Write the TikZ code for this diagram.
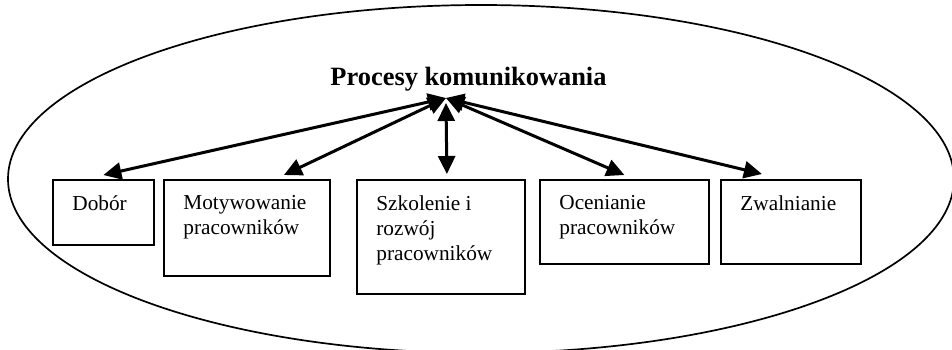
\documentclass[tikz,border=0pt]{standalone}
\usepackage{fontspec}
\setmainfont{Liberation Serif}
\usetikzlibrary{arrows.meta, positioning}

\begin{document}
\begin{tikzpicture}[x=0.5pt, y=-0.5pt,
    box/.style={draw, line width=0.9pt, anchor=north west, inner sep=0pt},
    boxtext/.style={anchor=north west, align=left, inner xsep=10pt, inner ysep=8pt,
                    font=\fontsize{10.65pt}{12.5pt}\selectfont},
    arr/.style={{Triangle[length=9pt,width=8.5pt]}-{Triangle[length=9pt,width=8.5pt]},
                line width=1.5pt}]
\useasboundingbox (0,0) rectangle (952,349);

% outer ellipse
\draw[line width=0.85pt] (481,179) ellipse [x radius=473, y radius=174];

% title
\node[font=\bfseries\fontsize{13.2pt}{15pt}\selectfont, anchor=base] (title) at (468.5,85)
   {Procesy komunikowania};
\coordinate (hub) at (446,98);

% boxes
\node[box, minimum width=50.5pt, minimum height=32.5pt] (dobor) at (52,179) {};
\node[box, minimum width=83pt, minimum height=48pt] (motyw) at (163,179) {};
\node[box, minimum width=84pt, minimum height=57pt] (szkol) at (356,179) {};
\node[box, minimum width=84.5pt, minimum height=42pt] (ocen) at (539,179) {};
\node[box, minimum width=70pt, minimum height=42pt] (zwal) at (720,179) {};

% box texts
\node[boxtext] (doborT) at (dobor.north west) {Dobór};
\node[boxtext] (motywT) at (motyw.north west) {Motywowanie\\pracowników};
\node[boxtext] (szkolT) at (szkol.north west) {Szkolenie i\\rozwój\\pracowników};
\node[boxtext] (ocenT) at (ocen.north west) {Ocenianie\\pracowników};
\node[boxtext] (zwalT) at (zwal.north west) {Zwalnianie};

% arrows
\draw[arr] (hub) -- ([yshift=2pt]dobor.north);
\draw[arr] (hub) -- ([xshift=18.5pt,yshift=2pt]motyw.north);
\draw[arr] ([yshift=-2.5pt]hub) -- ([xshift=3pt,yshift=2.5pt]szkol.north);
\draw[arr] (hub) -- ([yshift=2pt]ocen.north);
\draw[arr] (hub) -- ([xshift=-14.5pt,yshift=2.5pt]zwal.north);

\end{tikzpicture}
\end{document}
